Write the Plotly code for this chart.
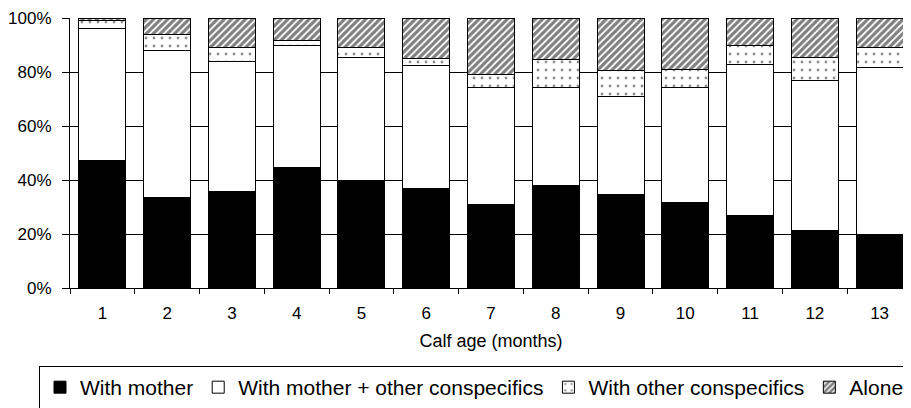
import plotly.graph_objects as go

# calf age in months
months = [str(m) for m in range(1, 14)]

# percentage of observations per association category
with_mother = [47.1, 33.6, 35.6, 44.5, 39.9, 36.9, 31.1, 37.8, 34.8, 31.5, 27.0, 21.4, 19.7]
with_mother_others = [48.9, 54.2, 48.4, 45.2, 45.5, 45.6, 43.1, 36.4, 36.1, 42.7, 55.9, 55.6, 62.0]
with_others = [2.9, 6.1, 5.1, 1.9, 3.6, 2.4, 4.7, 10.3, 9.6, 6.7, 6.8, 8.4, 7.4]
alone = [1.1, 6.1, 10.9, 8.4, 11.0, 15.1, 21.1, 15.5, 19.5, 19.1, 10.3, 14.6, 10.9]

y_ticks = [0, 20, 40, 60, 80, 100]

series = [
    ('With mother', with_mother, dict(color='black')),
    ('With mother + other conspecifics', with_mother_others, dict(color='white')),
    ('With other conspecifics', with_others,
     dict(color='white', pattern=dict(shape='.', size=8, solidity=0.1, fgcolor='#222', bgcolor='white', fillmode='overlay'))),
    ('Alone', alone,
     dict(color='white', pattern=dict(shape='/', size=5, solidity=0.65, fgcolor='black', bgcolor='white', fillmode='overlay'))),
]

fig = go.Figure()
for name, vals, marker in series:
    marker['line'] = dict(color='black', width=1)
    fig.add_trace(go.Bar(x=months, y=vals, name=name, marker=marker))

# the page body adds an 8px offset, margins are set with that in mind
font = 'Liberation Sans, Arial, sans-serif'
fig.update_layout(
    width=911, height=408,
    barmode='stack', bargap=0.274,
    plot_bgcolor='white', paper_bgcolor='white',
    margin=dict(l=62, r=7, t=10, b=128, autoexpand=False),
    font=dict(family=font, color='black', size=17),
    showlegend=True,
    legend=dict(orientation='h', x=-0.0368, xanchor='left', y=-0.289, yanchor='top',
                bordercolor='black', borderwidth=1, bgcolor='white',
                font=dict(size=21, family=font), traceorder='normal'),
)
fig.update_xaxes(
    title=dict(text='Calf age (months)', font=dict(size=18), standoff=11),
    showline=True, linecolor='black', linewidth=1, automargin=False,
    ticks='outside', tickson='boundaries', ticklen=5, tickcolor='black',
    ticklabelstandoff=10, showgrid=False,
)
fig.update_yaxes(
    range=[0, 100], tickvals=y_ticks, ticktext=[f'{v}%' for v in y_ticks],
    showline=True, linecolor='black', linewidth=1, automargin=False,
    ticks='outside', ticklen=7, tickcolor='black',
    showgrid=True, gridcolor='black', gridwidth=1,
    zeroline=False, ticklabelstandoff=7,
)

fig.write_html("out.html")
